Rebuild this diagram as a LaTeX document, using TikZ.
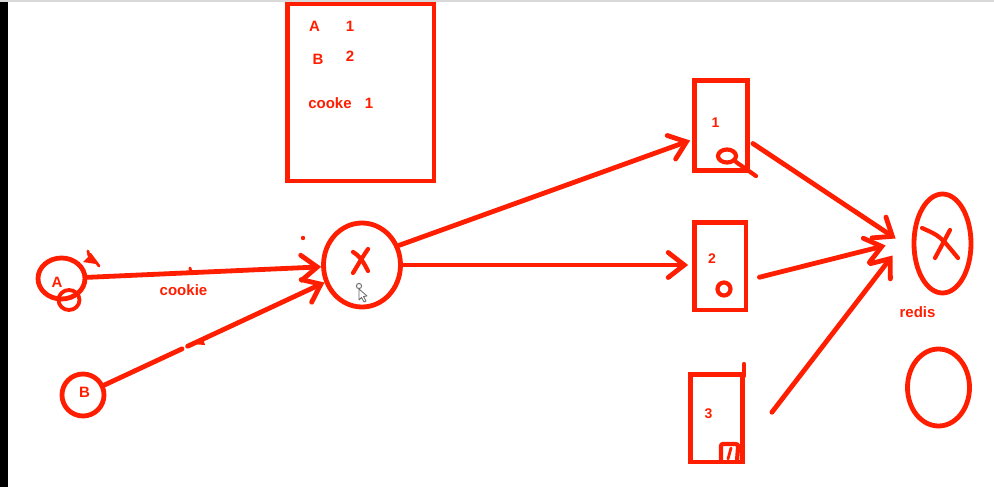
\documentclass[tikz,border=0pt]{standalone}
\usepackage{fontspec}
\setmainfont{Liberation Sans}
\usetikzlibrary{arrows.meta,calc,shapes.geometric}
\definecolor{ink}{RGB}{255,30,0}
\begin{document}
\begin{tikzpicture}[x=1pt,y=-1pt,
  stroke/.style={draw=ink,line width=4.8pt},
  ring/.style={stroke,ellipse,inner sep=0pt},
  server/.style={stroke,rectangle,inner sep=0pt},
  lbl/.style={text=ink,font=\fontsize{15}{17}\selectfont\bfseries,anchor=base,inner sep=0pt},
  slbl/.style={lbl,font=\fontsize{14}{16}\selectfont\bfseries},
  conn/.style={draw=ink,line width=4.8pt,line cap=round,-{Straight Barb[length=16pt,width=25pt,line cap=round]}},
  plain/.style={draw=ink,line width=4.8pt,line cap=round},
  scrib/.style={draw=ink,line width=4.2pt,line cap=round,line join=round}]
\useasboundingbox (0,0) rectangle (994,487);
\fill[white] (0,0) rectangle (994,487);
\fill[black] (0,0) rectangle (8,487);
\fill[black!15] (0,0) rectangle (994,2);

% session memory box
\node[server,minimum width=146.5,minimum height=177] (mem) at (360.75,92.5) {};
\node[lbl] (tA) at (314.5,32) {A};
\node[lbl] (t1) at (350,32) {1};
\node[lbl] (tB) at (318,65) {B};
\node[lbl] (t2) at (350,62) {2};
\node[lbl] (tc) at (330,109) {cooke};
\node[lbl] (t3) at (369,109) {1};

% clients
\node[ring,minimum width=47,minimum height=41] (A) at (61.5,278.5) {};
\node[lbl] (Al) at (57,287) {A};
\node[ring,line width=3.8pt,minimum width=21,minimum height=20] (a2) at (69,300) {};
\node[ring,minimum width=42,minimum height=42] (B) at (83,395) {};
\node[lbl] (Bl) at (84.5,397) {B};
\node[lbl] (ck) at (183.5,295) {cookie};

% proxy
\node[ring,minimum width=77,minimum height=84] (X) at (362,265) {};

% servers
\node[server,minimum width=53,minimum height=90] (b1) at (721,125.5) {};
\node[slbl] (n1) at (715.5,127) {1};
\node[server,minimum width=51.5,minimum height=87.5] (b2) at (720.25,266.25) {};
\node[slbl] (n2) at (712,263) {2};
\node[server,minimum width=52,minimum height=87.5] (b3) at (716.5,418.25) {};
\node[slbl] (n3) at (708.5,418) {3};

% redis
\node[ring,minimum width=57,minimum height=99] (R) at (942.5,243.5) {};
\node[lbl] (rl) at (917.5,317) {redis};
\node[ring,minimum width=62,minimum height=77] (E) at (938.5,387.5) {};

% connectors
\draw[conn] (A) -- (X);
\coordinate (g1) at ($(B)!0.355!(X)$);
\coordinate (g2) at ($(B)!0.375!(X)$);
\draw[plain] (B) -- (g1);
\draw[conn] (g2) -- (X);
\draw[conn] (X.28) -- ($(b1.west)+(-2,15)$);
\draw[conn] (X.east) -- ($(X.east -| b2.west)+(-4,0)$);
\draw[conn] ($(b1.east)+(3,18)$) -- ($(R.west)+(-16,-5)$);
\draw[conn] ($(b2.east)+(11,11)$) -- ($(R.west)+(-26,2)$);
\draw[conn] ($(b3.east)+(27,-6)$) -- ($(R.west)+(-19,12)$);

% scribbles
\draw[scrib] (368,249) .. controls (362,258) .. (353,273);
\draw[scrib] (353,252) .. controls (360,256) and (364,263) .. (368,271);
\draw[scrib] (922,228) .. controls (940,236) .. (958,258);
\draw[scrib] (950,230) .. controls (942,245) .. (935,258);
\draw[scrib] (727,156) ellipse [x radius=9, y radius=6.5];
\draw[scrib] (736,162) -- (756,176);
\draw[scrib] (724,289) circle [radius=6.5];
\draw[scrib] (721,461) -- (721,448) .. controls (721,444) .. (725,444) -- (735,444) .. controls (738,444) .. (738,448) -- (737,461);
\draw[scrib,line width=2.8pt] (731,448) -- (728,459);
\draw[scrib] (744,364) -- (744,376);
\fill[ink] (83,262) -- (91,254) -- (96,264) -- cycle;
\draw[scrib,line width=2.8pt] (90,254) -- (99,266) (88,251) -- (89,256);
\draw[scrib,line width=3pt] (190,268) -- (191,273);
\fill[ink] (192,344) -- (203,338) -- (205,345) -- cycle;
\fill[ink] (303,238) circle [radius=2.2];

% mouse cursor
\draw[black!55,line width=1pt] (359,286) circle [radius=2.6];
\draw[black!60,fill=white,line width=0.8pt,line join=round] (359,289) -- (359,300) -- (361.5,297.5) -- (364,302) -- (366,301) -- (363.5,296.5) -- (367,296) -- cycle;
\end{tikzpicture}
\end{document}
